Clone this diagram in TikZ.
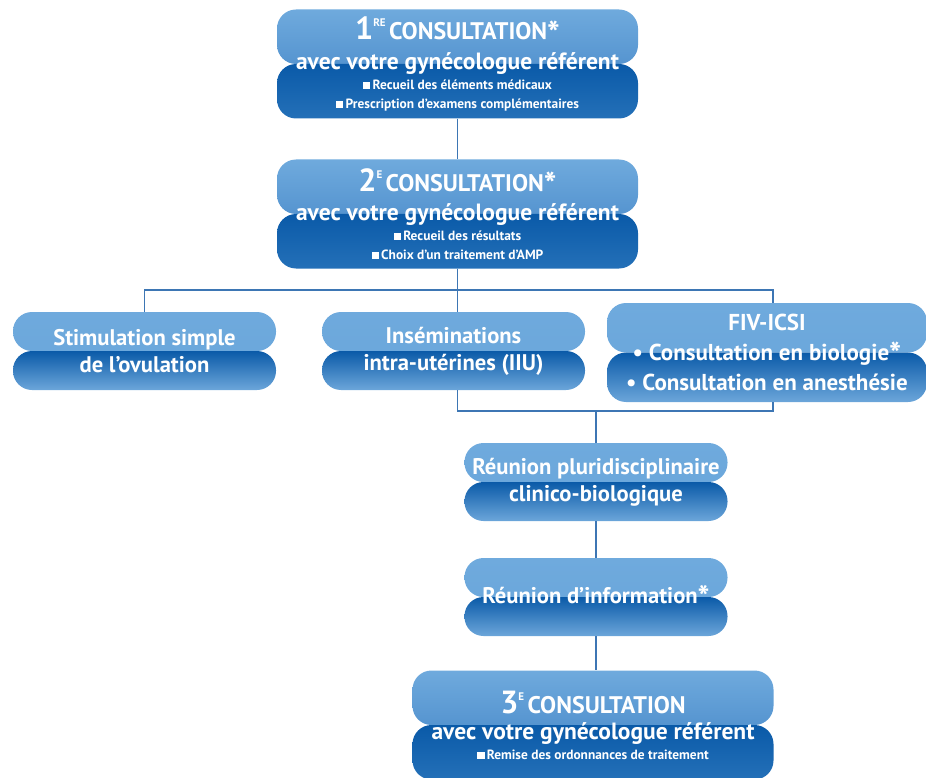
\documentclass[tikz,border=0pt]{standalone}
\usepackage{graphicx}
\usepackage{fontspec}
\setmainfont{PT Sans}
\usetikzlibrary{positioning}

\definecolor{boxlight}{HTML}{6FAADD}
\definecolor{boxlight2}{HTML}{68A5DA}
\definecolor{boxfade}{HTML}{3C7FC3}
\definecolor{boxdark}{HTML}{0A5AA8}
\definecolor{boxlow}{HTML}{6CA6DA}
\definecolor{boxdeep}{HTML}{2470B8}
\definecolor{linkblue}{HTML}{3D76B4}

\newcommand{\sqbul}{\rule{0.55em}{0.55em}\,}
\newcommand{\supst}[1]{\raisebox{13pt}{\fontsize{11}{11}\selectfont #1}}
\newcommand{\bigast}{\raisebox{-0.22em}{\scalebox{1.4}{*}}}

\begin{document}
\begin{tikzpicture}[x=1pt,y=-1pt]
  \tikzstyle{blockbase}=[rounded corners=19pt,inner sep=0pt,text=white,align=center]
  \tikzstyle{simplebox}=[blockbase,minimum width=263pt,minimum height=78pt,
    font=\bfseries\fontsize{22.6}{27}\selectfont,
    path picture={
      \shade[top color=boxlight,bottom color=boxlight2]
        (path picture bounding box.north west) rectangle (path picture bounding box.east);
      \shade[top color=boxdark,bottom color=boxlow]
        (path picture bounding box.west) rectangle (path picture bounding box.south east);}]
  \tikzstyle{consultbox}=[blockbase,minimum width=361pt,minimum height=109pt,
    font=\bfseries\fontsize{13.4}{20}\selectfont,
    path picture={
      \shade[top color=boxlight,bottom color=boxfade]
        (path picture bounding box.north west) rectangle (path picture bounding box.east);
      \shade[top color=boxdark,bottom color=boxdeep]
        (path picture bounding box.west) rectangle (path picture bounding box.south east);}]
  \tikzstyle{link}=[draw=linkblue,line width=1.8pt]

  \useasboundingbox (0,0) rectangle (926,778);

  % consultations
  \node[consultbox] (cons1) at (457.5,64) {%
    {\fontsize{32}{32}\selectfont 1}\supst{RE}\ {\fontsize{24}{24}\selectfont CONSULTATION\bigast}\\[6pt]
    {\fontsize{23.5}{23.5}\selectfont avec votre gynécologue référent}\\
    \sqbul Recueil des éléments médicaux\\[-1pt]
    \sqbul Prescription d’examens complémentaires};
  \node[consultbox] (cons2) at (457.5,214) {%
    {\fontsize{32}{32}\selectfont 2}\supst{E}\ {\fontsize{24}{24}\selectfont CONSULTATION\bigast}\\[6pt]
    {\fontsize{23.5}{23.5}\selectfont avec votre gynécologue référent}\\
    \sqbul Recueil des résultats\\[-1pt]
    \sqbul Choix d’un traitement d’AMP};

  % options
  \node[simplebox] (stim)  at (144.5,351) {Stimulation simple\\de l’ovulation};
  \node[simplebox] (insem) at (453.5,351) {Inséminations\\intra-utérines (IIU)};
  \node[simplebox,minimum width=320pt,minimum height=99pt,
    font=\bfseries\fontsize{23}{30}\selectfont] (fiv) at (767,352.5)
    {FIV-ICSI\\• Consultation en biologie\bigast\\• Consultation en anesthésie};

  % suite
  \node[simplebox] (staff) at (596,482) {Réunion pluridisciplinaire\\clinico-biologique};
  \node[simplebox] (info)  at (596,597) {Réunion d’information\bigast};
  \node[consultbox] (cons3) at (593,725) {%
    {\fontsize{32}{32}\selectfont 3}\supst{E}\ {\fontsize{24}{24}\selectfont CONSULTATION}\\[6pt]
    {\fontsize{23.5}{23.5}\selectfont avec votre gynécologue référent}\\
    \sqbul Remise des ordonnances de traitement};

  \coordinate (fork) at (457.5,290);
  \coordinate (forkr) at (773,290);
  \coordinate (join) at (457.5,411);
  \coordinate (joinr) at (773,411);
  \coordinate (joinm) at (596,411);

  \draw[link] (cons1) -- (cons2);
  \draw[link] (cons2) -- (fork);
  \draw[link] (stim.north) |- (fork) -- (forkr) -- (forkr |- fiv.north);
  \draw[link] (fork) -- (fork |- insem.north);
  \draw[link] (fork |- insem.south) -- (join) -- (joinr) -- (joinr |- fiv.south);
  \draw[link] (joinm) -- (staff.north);
  \draw[link] (staff) -- (info);
  \draw[link] (info.south) -- (info.south |- cons3.north);
\end{tikzpicture}
\end{document}
